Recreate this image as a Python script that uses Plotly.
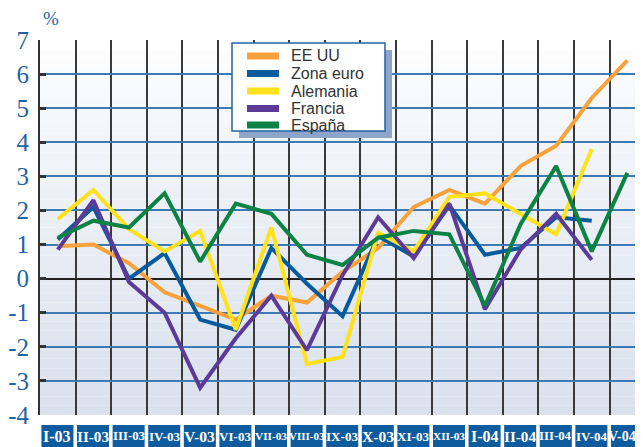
import plotly.graph_objects as go

categories = ["I-03", "II-03", "III-03", "IV-03", "V-03", "VI-03", "VII-03", "VIII-03",
              "IX-03", "X-03", "XI-03", "XII-03", "I-04", "II-04", "III-04", "IV-04", "V-04"]

ee_uu = [0.95, 1.0, 0.45, -0.4, -0.8, -1.2, -0.5, -0.7, 0.2, 0.9, 2.1, 2.6, 2.2, 3.3, 3.9, 5.3, 6.4]
zona_euro = [1.15, 2.1, 0.0, 0.75, -1.2, -1.5, 0.9, -0.15, -1.1, 1.25, 0.65, 2.15, 0.7, 0.9, 1.8, 1.7, None]
alemania = [1.75, 2.6, 1.45, 0.8, 1.4, -1.5, 1.5, -2.5, -2.3, 1.35, 0.8, 2.4, 2.5, 1.9, 1.3, 3.8, None]
francia = [0.85, 2.3, -0.1, -1.0, -3.2, -1.75, -0.5, -2.1, 0.1, 1.8, 0.6, 2.2, -0.9, 0.85, 1.9, 0.55, None]
espana = [1.2, 1.7, 1.5, 2.5, 0.5, 2.2, 1.9, 0.7, 0.4, 1.2, 1.4, 1.3, -0.8, 1.6, 3.3, 0.8, 3.1]

y_ticks = [7, 6, 5, 4, 3, 2, 1, 0, -1, -2, -3, -4]
y_tick_labels = ["7", "6", "5", "4", "3", "2", "1", "0", "-1", "-2", "-3", "-4"]

series = [
    ("EE UU", ee_uu, "#F9A13A"),
    ("Zona euro", zona_euro, "#075A9B"),
    ("Alemania", alemania, "#FFE11C"),
    ("Francia", francia, "#5C3B98"),
    ("España", espana, "#0C8245"),
]

# page geometry (the page is offset ~8px by the body margin)
W, H = 643, 447
L, T, PW, PH = 32, 32, 603, 375

def px(xp):  # page x -> paper
    return (xp - 40) / PW

def py(yp):  # page y -> paper
    return 1 - (yp - 40) / PH

fig = go.Figure()
for name, vals, col in series:
    fig.add_trace(go.Scatter(x=categories, y=vals, name=name, mode="lines",
                             line=dict(color=col, width=4), connectgaps=False,
                             showlegend=False))

shapes = []
annotations = []

# background gradient bands
n = 40
c0 = (255, 255, 255)
c1 = (218, 225, 237)
for i in range(n):
    t = i / (n - 1)
    t2 = t ** 0.8
    c = tuple(int(round(c0[k] + (c1[k] - c0[k]) * t2)) for k in range(3))
    shapes.append(dict(type="rect", xref="x domain", yref="y domain",
                       x0=0, x1=1, y0=1 - (i + 1) / n, y1=1 - i / n,
                       fillcolor="rgb(%d,%d,%d)" % c, line=dict(width=0), layer="below"))

# category label boxes
em = {"I": 0.389, "V": 0.722, "X": 0.722, "-": 0.333, "0": 0.5, "3": 0.5, "4": 0.5}
last = len(categories) - 1
for i, cat in enumerate(categories):
    shapes.append(dict(type="rect", xref="x", yref="paper", x0=i - 0.46, x1=i + 0.44,
                       y0=py(450), y1=py(425), fillcolor="#0E5C9E", line=dict(width=0)))
    w = sum(em.get(ch, 0.5) for ch in cat)
    size = max(11, min(16, 32 / w))
    if i == last:
        size = 14
    annotations.append(dict(x=i - 0.01, y=py(436.5), xref="x", yref="paper", text="<b>%s</b>" % cat,
                            showarrow=False, xanchor="center", yanchor="middle",
                            xshift=-5 if i == last else 0,
                            font=dict(family="Liberation Serif", size=size, color="white")))

# legend box with shadow
shapes.append(dict(type="rect", xref="paper", yref="paper", x0=px(239), x1=px(392), y0=py(138), y1=py(50),
                   fillcolor="#8DA4CB", line=dict(width=0), layer="above"))
shapes.append(dict(type="rect", xref="paper", yref="paper", x0=px(232), x1=px(385), y0=py(131), y1=py(43),
                   fillcolor="white", line=dict(color="#2563A3", width=1.5), layer="above"))
row_y = [56, 73.5, 91, 108.5, 125]
for (name, vals, col), ry in zip(series, row_y):
    shapes.append(dict(type="rect", xref="paper", yref="paper", x0=px(247), x1=px(279),
                       y0=py(ry + 3.5), y1=py(ry - 3.5), fillcolor=col, line=dict(width=0),
                       layer="above"))
    annotations.append(dict(x=px(289), y=py(ry), xref="paper", yref="paper", text=name,
                            showarrow=False, xanchor="left", yanchor="middle",
                            font=dict(family="Liberation Sans", size=16, color="#333333")))

annotations.append(dict(x=px(51), y=py(19), xref="paper", yref="paper", text="%", showarrow=False,
                        xanchor="center", yanchor="middle",
                        font=dict(family="Liberation Serif", size=19, color="#1F63A6")))

fig.update_layout(
    width=W, height=H,
    margin=dict(l=L, r=W - L - PW, t=T, b=H - T - PH, autoexpand=False),
    paper_bgcolor="white",
    plot_bgcolor="rgba(0,0,0,0)",
    showlegend=False,
    shapes=shapes,
    annotations=annotations,
    xaxis=dict(type="category", categoryorder="array", categoryarray=categories,
               range=[-0.5, 16.44], tickson="boundaries", showgrid=True,
               gridcolor="#3A3A3A", gridwidth=1.5, showticklabels=False, ticks="",
               zeroline=False, showline=False, automargin=False),
    yaxis=dict(range=[-4, 7], tickvals=y_ticks, ticktext=y_tick_labels, showgrid=True,
               gridcolor="#3D7AB3", gridwidth=1.5,
               zeroline=True, zerolinecolor="#222222", zerolinewidth=2,
               showline=True, linecolor="#333333", linewidth=2,
               ticks="inside", ticklen=6, tickwidth=3, tickcolor="#333333",
               tickfont=dict(family="Liberation Serif", size=25, color="#1F63A6"),
               ticklabelstandoff=4, automargin=False),
)

fig.write_html("out.html")
